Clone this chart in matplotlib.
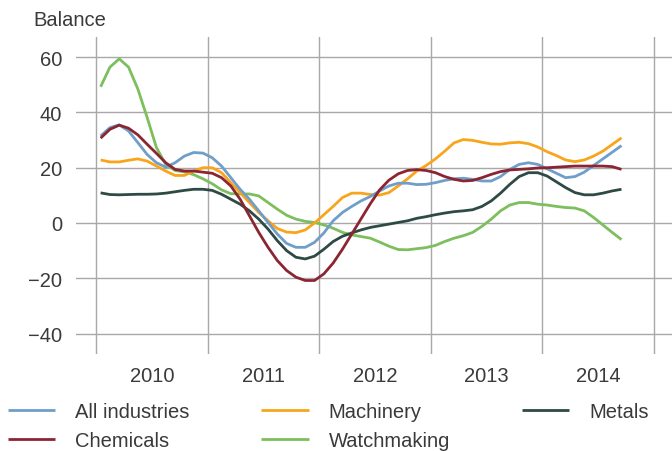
import numpy as np
import matplotlib
matplotlib.use("Agg")
import matplotlib.pyplot as plt
from matplotlib.ticker import FixedLocator, NullFormatter, FixedFormatter

plt.rcParams['font.family'] = ['Liberation Sans', 'DejaVu Sans']

# monthly values, Jan 2010 .. Sep 2014 (balance of positive/negative answers)
start_year = 2010
all_industries = [31.5, 34.5, 35.5, 33.3, 29.1, 24.8, 21.8, 20.2, 21.8, 24.2, 25.5, 25.3,
                  23.6, 20.6, 16.4, 12.2, 8.6, 4.4, 0.2, -4.0, -7.4, -8.8, -8.8, -7.0,
                  -3.6, 0.8, 3.8, 6.0, 8.0, 9.6, 11.6, 13.4, 14.4, 14.4, 13.9, 14.0,
                  14.6, 15.4, 16.0, 16.2, 15.8, 15.2, 15.2, 16.8, 19.4, 21.2, 21.8, 21.2,
                  19.6, 18.0, 16.4, 16.8, 18.4, 20.8, 23.2, 25.6, 28.0]
machinery = [22.8, 22.1, 22.1, 22.7, 23.2, 22.4, 20.6, 18.8, 17.2, 17.2, 18.8, 20.0,
             20.0, 18.2, 14.6, 11.0, 7.4, 3.8, 0.8, -2.0, -3.3, -3.5, -2.5, 0.0,
             3.0, 6.0, 9.2, 10.8, 10.8, 10.3, 10.1, 11.0, 13.4, 16.0, 18.8, 20.8,
             23.2, 26.0, 29.0, 30.2, 29.9, 29.2, 28.6, 28.5, 29.0, 29.2, 28.7, 27.5,
             25.8, 24.4, 22.8, 22.2, 22.8, 24.2, 26.0, 28.4, 30.8]
metals = [10.9, 10.3, 10.2, 10.3, 10.4, 10.4, 10.5, 10.8, 11.3, 11.8, 12.2, 12.2,
          11.8, 10.4, 8.6, 6.8, 4.4, 1.4, -2.2, -6.4, -10.0, -12.4, -13.0, -12.0,
          -9.5, -6.7, -4.8, -3.6, -2.5, -1.6, -1.0, -0.4, 0.2, 0.8, 1.7, 2.3,
          3.0, 3.6, 4.1, 4.4, 4.8, 6.0, 8.0, 10.8, 14.0, 16.8, 18.2, 18.2,
          17.0, 14.9, 12.8, 11.0, 10.2, 10.2, 10.8, 11.6, 12.2]
chemicals = [30.7, 33.9, 35.4, 34.3, 31.9, 28.5, 25.2, 21.8, 19.4, 18.8, 18.8, 18.4,
             18.0, 16.4, 13.4, 8.6, 2.6, -3.4, -8.8, -13.6, -17.2, -19.6, -20.8, -20.8,
             -18.4, -14.5, -9.5, -4.0, 1.5, 7.0, 12.0, 15.5, 17.8, 19.0, 19.3, 19.0,
             18.2, 16.8, 15.8, 15.2, 15.4, 16.4, 17.6, 18.6, 19.2, 19.4, 19.6, 19.9,
             20.0, 20.2, 20.4, 20.6, 20.6, 20.6, 20.6, 20.4, 19.4]
watchmaking = [49.3, 56.4, 59.4, 56.4, 48.5, 38.2, 27.3, 21.2, 19.0, 18.5, 17.5, 16.0,
               14.2, 12.0, 10.6, 10.5, 10.5, 9.8, 7.4, 5.0, 2.8, 1.4, 0.6, 0.2,
               -0.7, -1.9, -3.4, -4.3, -4.9, -5.5, -6.9, -8.4, -9.6, -9.7, -9.3, -8.9,
               -8.1, -6.7, -5.5, -4.6, -3.4, -1.2, 1.4, 4.4, 6.5, 7.4, 7.4, 6.8,
               6.5, 6.0, 5.6, 5.4, 4.4, 2.0, -0.7, -3.4, -6.0]

years = [2010, 2011, 2012, 2013, 2014]
y_ticks = [-40, -20, 0, 20, 40, 60]

months = np.arange(len(all_industries))
t = start_year + (months + 0.5) / 12

fig = plt.figure(figsize=(6.72, 4.52), dpi=100)
ax = fig.add_axes([76 / 672, 1 - 355 / 452, 1 - 76 / 672, 317 / 452])

series = [
    ("All industries", all_industries, "#6f9ec9"),
    ("Chemicals", chemicals, "#8b2532"),
    ("Machinery", machinery, "#f9a51c"),
    ("Watchmaking", watchmaking, "#7cbf5c"),
    ("Metals", metals, "#2d4a44"),
]
draw_order = ["Watchmaking", "Metals", "Machinery", "All industries", "Chemicals"]
handles = {}
for name in draw_order:
    label, vals, col = next(s for s in series if s[0] == name)
    handles[name], = ax.plot(t, vals, color=col, lw=2.0, label=label,
                             solid_capstyle="butt", zorder=3)

ax.set_xlim(2009.821, 2015.161)
ax.set_ylim(-47.4, 67.3)

ax.xaxis.set_major_locator(FixedLocator([2010, 2011, 2012, 2013, 2014, 2015]))
ax.xaxis.set_major_formatter(NullFormatter())
ax.xaxis.set_minor_locator(FixedLocator([y + 0.5 for y in years]))
ax.xaxis.set_minor_formatter(FixedFormatter([str(y) for y in years]))
ax.yaxis.set_major_locator(FixedLocator(y_ticks))

ax.tick_params(axis="both", which="both", length=0, labelsize=14.5, colors="#3a3a3a")
ax.tick_params(axis="x", which="minor", pad=9)
ax.tick_params(axis="y", pad=10)

ax.grid(True, which="major", color="#a8a8a8", lw=1.0)
ax.set_axisbelow(True)
for sp in ax.spines.values():
    sp.set_visible(False)

fig.text(33 / 672, 1 - 20 / 452, "Balance", fontsize=14.5, color="#3a3a3a", va="center", ha="left")

fig.legend([handles[s[0]] for s in series], [s[0] for s in series],
           loc="upper left", bbox_to_anchor=(8 / 672, 1 - 403 / 452),
           ncol=3, frameon=False, fontsize=14.5, handlelength=2.35,
           handletextpad=1.0, columnspacing=3.55, labelspacing=0.5,
           borderpad=0, borderaxespad=0, labelcolor="#3a3a3a")

fig.savefig("out.png", dpi=100)
